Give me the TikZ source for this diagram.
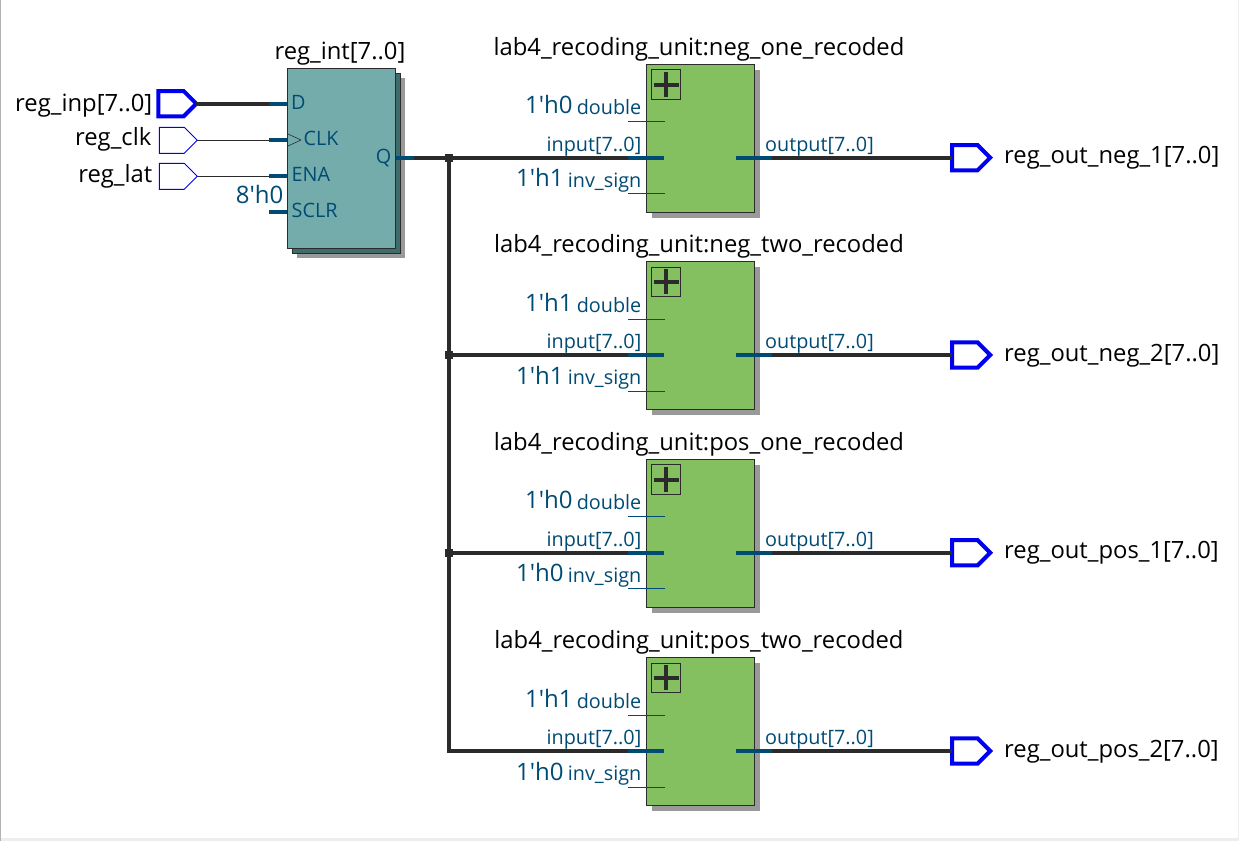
\documentclass[tikz,border=0pt]{standalone}
\usepackage{fontspec}
\setmainfont[Ligatures=TeXOff]{Open Sans}
\usetikzlibrary{shapes.symbols}
\definecolor{wire}{HTML}{2B2B2B}
\definecolor{portc}{HTML}{004B74}
\definecolor{pinb}{HTML}{0000F0}
\definecolor{regf}{HTML}{74ACAC}
\definecolor{regb}{HTML}{3F6B6B}
\definecolor{blkf}{HTML}{84C060}
\definecolor{shad}{HTML}{999999}
\tikzset{
 x=1pt,y=-1pt,
 lbl/.style={font=\fontsize{23.8}{24}\selectfont,text=black,inner sep=0pt},
 prt/.style={font=\fontsize{19.8}{20}\selectfont,text=portc,inner sep=0pt},
 cst/.style={font=\fontsize{24}{24}\selectfont,text=portc,inner sep=0pt},
 pinbase/.style={signal,signal to=east,signal from=nowhere,signal pointer angle=90,draw=pinb,fill=white,minimum width=#1,inner sep=0pt,outer sep=0pt},
 pinthick/.style={pinbase=38,minimum height=25.4,line width=4},
 pinthin/.style={pinbase=38,minimum height=26,line width=0.9},
 bus/.style={draw=wire,line width=4},
 bit/.style={draw=wire,line width=1},
 stubbus/.style={draw=portc,line width=4},
 stubbit/.style={draw=portc,line width=0.9},
 box/.style={draw=wire,line width=1,inner sep=0pt,outer sep=0pt},
 junc/.style={fill=wire,inner sep=0pt,minimum size=8,outer sep=0pt},
}
\newcommand{\rblock}[6]{%
 % #1 name, #2 wire y, #3 title, #4 double const, #5 inv const, #6 pin label
 \fill[shad] (652,#2-88) rectangle (760,#2+60);
 \node[box,fill=blkf,minimum width=108,minimum height=148,anchor=north west] (#1) at (646.7,#2-93.3) {};
 \node[box,minimum width=29.3,minimum height=29.3,anchor=north west] (#1plus) at (651.5,#2-87.8) {};
 \draw[wire,line width=4] (#1plus.center)+(-12.4,0) -- +(12.4,0) (#1plus.center)+(0,-12.4) -- +(0,12.4);
 \node[lbl,anchor=base] (#1title) at (699,#2-102.4) {#3};
 \coordinate (#1din) at (628,#2);
 \coordinate (#1dinb) at (664,#2);
 \coordinate (#1out) at (736,#2);
 \coordinate (#1outb) at (772,#2);
 \coordinate (#1da) at (628,#2-36);
 \coordinate (#1db) at (665,#2-36);
 \coordinate (#1ia) at (628,#2+36);
 \coordinate (#1ib) at (665,#2+36);
 \path[stubbit] (#1da) -- (#1db) (#1ia) -- (#1ib);
 \node[prt,anchor=base east] (#1dl) at (641.5,#2-43) {double};
 \node[cst,anchor=base west] (#1dc) at (525,#2-43.8) {#4};
 \node[prt,anchor=base east] (#1il) at (641.5,#2-6.7) {input[7..0]};
 \node[prt,anchor=base east] (#1sl) at (641.5,#2+29.8) {inv\_sign};
 \node[cst,anchor=base west] (#1sc) at (516,#2+29) {#5};
 \node[prt,anchor=base west] (#1ol) at (765,#2-6.7) {output[7..0]};
 \node[pinthick,anchor=east] (#1pin) at (990.2,#2) {};
 \node[lbl,anchor=base west] (#1pl) at (1004,#2+6) {#6};
 \path[bus] (#1outb) -- (#1pin.west);
 \path[stubbus] (#1out) -- (#1outb);
}
\begin{document}
\begin{tikzpicture}
\useasboundingbox (0,0) rectangle (1239,841);
\fill[white] (0,0) rectangle (1239,841);
\fill[black!30] (0,0) rectangle (1,841);
\fill[black!7] (1,838) rectangle (1239,841);
\fill[black!7] (1238,0) rectangle (1239,841);
% input pins
\node[pinthick,anchor=east] (pinp) at (196.3,103.7) {};
\node[pinthin,anchor=east] (pclk) at (197.3,140.3) {};
\node[pinthin,anchor=east] (plat) at (197.3,176.3) {};
\node[lbl,anchor=base east] (linp) at (152.5,111) {reg\_inp[7..0]};
\node[lbl,anchor=base east] (lclk) at (151.5,145.7) {reg\_clk};
\node[lbl,anchor=base east] (llat) at (152.5,182.5) {reg\_lat};
% register
\fill[shad] (297,78) rectangle (405,257.7);
\node[box,fill=regb,minimum width=108.4,minimum height=180,anchor=north west] (regback) at (292.3,73.3) {};
\node[box,fill=regf,minimum width=108.4,minimum height=180,anchor=north west] (reg) at (287.3,68.3) {};
\node[lbl,anchor=base] (regt) at (340,59) {reg\_int[7..0]};
\coordinate (dp) at (269,103.7);
\coordinate (dq) at (287,103.7);
\coordinate (cp) at (269,140.3);
\coordinate (cq) at (287,139.7);
\coordinate (cs) at (269,139.7);
\coordinate (ep) at (269,176.3);
\coordinate (eq) at (287,175.7);
\coordinate (es) at (269,175.7);
\coordinate (sp) at (269,211.7);
\coordinate (sq) at (287,211.7);
\coordinate (qa) at (396,157.7);
\coordinate (qb) at (414,157.7);
\draw[wire,line width=0.6] (288,134) -- (301,140) -- (288,146);
\path[bus] (pinp.east) -- (dp);
\path[bit] (pclk.east) -- (cp);
\path[bit] (plat.east) -- (ep);
\path[stubbus] (dp) -- (dq) (cs) -- (cq) (es) -- (eq) (sp) -- (sq);
\node[prt,anchor=base west] (ld) at (291,109.5) {D};
\node[prt,anchor=base west] (lc) at (303.5,145) {CLK};
\node[prt,anchor=base west] (le) at (291.5,181) {ENA};
\node[prt,anchor=base west] (ls) at (291.5,217) {SCLR};
\node[prt,anchor=base east] (lq) at (391.5,163.3) {Q};
\node[cst,anchor=base east] (l8) at (283.5,203.7) {8'h0};
% blocks
\rblock{a}{157.7}{lab4\_recoding\_unit:neg\_one\_recoded}{1'h0}{1'h1}{reg\_out\_neg\_1[7..0]}
\rblock{b}{355}{lab4\_recoding\_unit:neg\_two\_recoded}{1'h1}{1'h1}{reg\_out\_neg\_2[7..0]}
\rblock{c}{552.7}{lab4\_recoding\_unit:pos\_one\_recoded}{1'h0}{1'h0}{reg\_out\_pos\_1[7..0]}
\rblock{d}{751}{lab4\_recoding\_unit:pos\_two\_recoded}{1'h1}{1'h0}{reg\_out\_pos\_2[7..0]}
% bus
\node[junc] (j1) at (449,157.7) {};
\node[junc] (j2) at (449,355) {};
\node[junc] (j3) at (449,552.7) {};
\coordinate (j4) at (449,751);
\path[bus] (qb) -- (adin);
\path[bus] (j2) -- (bdin);
\path[bus] (j3) -- (cdin);
\path[bus,line join=miter] (j1.center) -- (j4) -- (ddin);
\path[stubbus] (qa) -- (qb);
\path[stubbus] (adin) -- (adinb) (bdin) -- (bdinb) (cdin) -- (cdinb) (ddin) -- (ddinb);
\end{tikzpicture}
\end{document}
